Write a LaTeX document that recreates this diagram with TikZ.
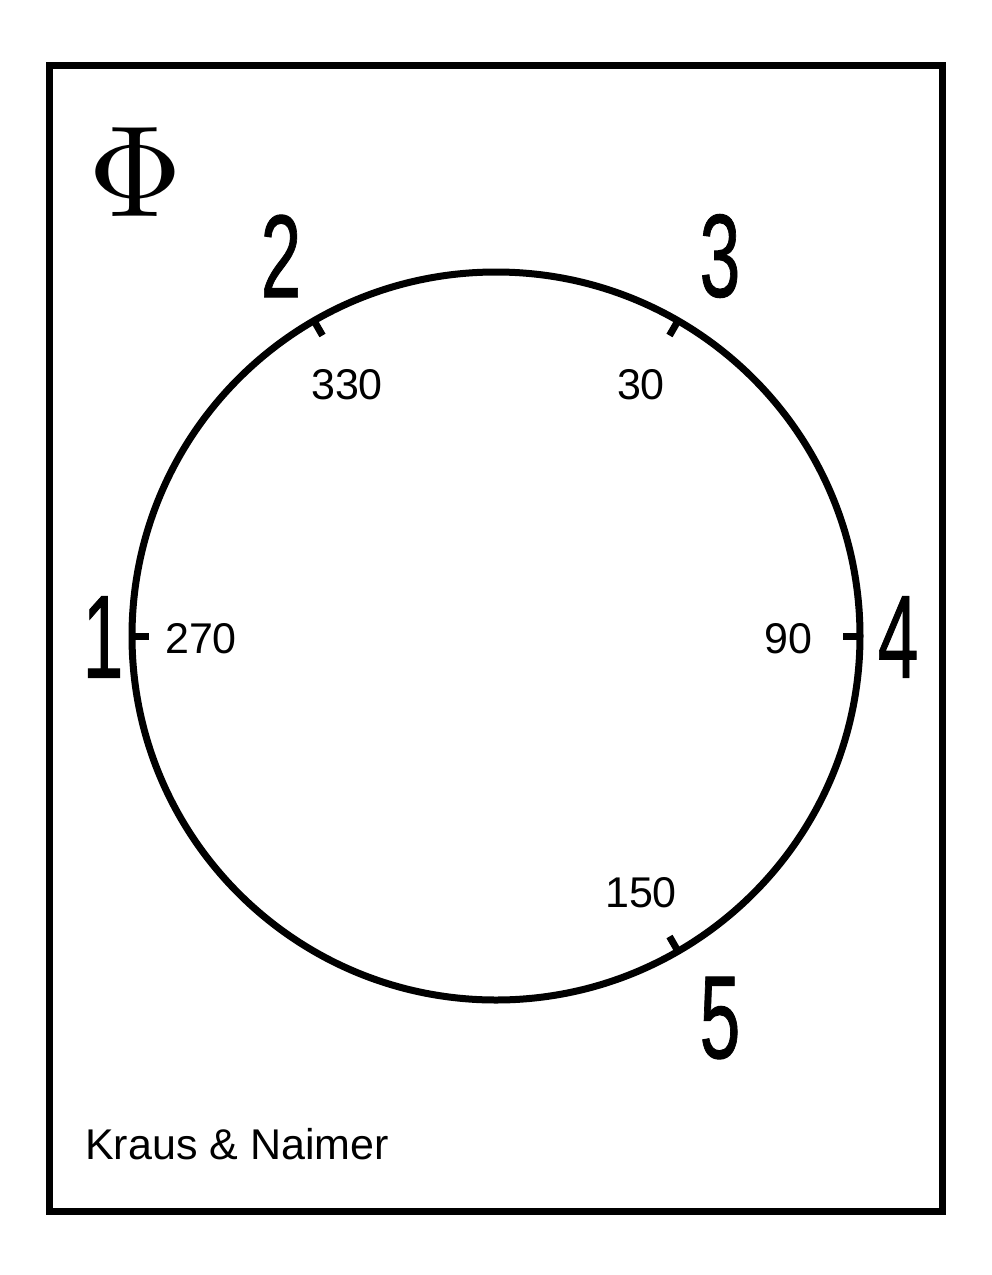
\documentclass[tikz,border=0pt]{standalone}
\usepackage{fontspec}
\newfontfamily\lib{Liberation Sans}
\newfontfamily\libd[FakeBold=0.9]{Liberation Sans}
\tikzset{
  frameline/.style={line width=7pt},
  bigdig/.style={inner sep=0pt, font=\libd\fontsize{118}{118}\selectfont},
  smalllab/.style={inner sep=0pt, font=\lib\fontsize{43}{43}\selectfont},
}
\newcommand{\bd}[1]{\scalebox{0.62}[1]{#1}}
\begin{document}
\begin{tikzpicture}[x=1pt,y=-1pt]
\useasboundingbox (0,0) rectangle (992,1275);
\fill[white] (0,0) rectangle (992,1275);
\draw[frameline] (49,65) rectangle (942,1211);
\coordinate (c) at (496,636);
\draw[frameline] (c) circle (364);
\foreach \a in {330,30,90,150,270}{
  \draw[frameline, shift={(c)}] (\a-90:364) -- (\a-90:347);
}
\node[inner sep=0pt] (phi) at (135,172.5) {\scalebox{13}{$\Phi$}};
\node[bigdig] (d1) at (103,637) {\bd{1}};
\node[bigdig] (d2) at (281,256) {\bd{2}};
\node[bigdig] (d3) at (720,256) {\bd{3}};
\node[bigdig] (d4) at (898,637) {\bd{4}};
\node[bigdig] (d5) at (720,1018) {\bd{5}};
\node[smalllab] (l270) at (201,639) {270};
\node[smalllab] (l90) at (788,639) {90};
\node[smalllab] (l150) at (641,893) {150};
\node[smalllab] (l330) at (347,385) {330};
\node[smalllab] (l30) at (641,385) {30};
\node[smalllab, anchor=base west] (km) at (85,1159) {Kraus \& Naimer};
\end{tikzpicture}
\end{document}
